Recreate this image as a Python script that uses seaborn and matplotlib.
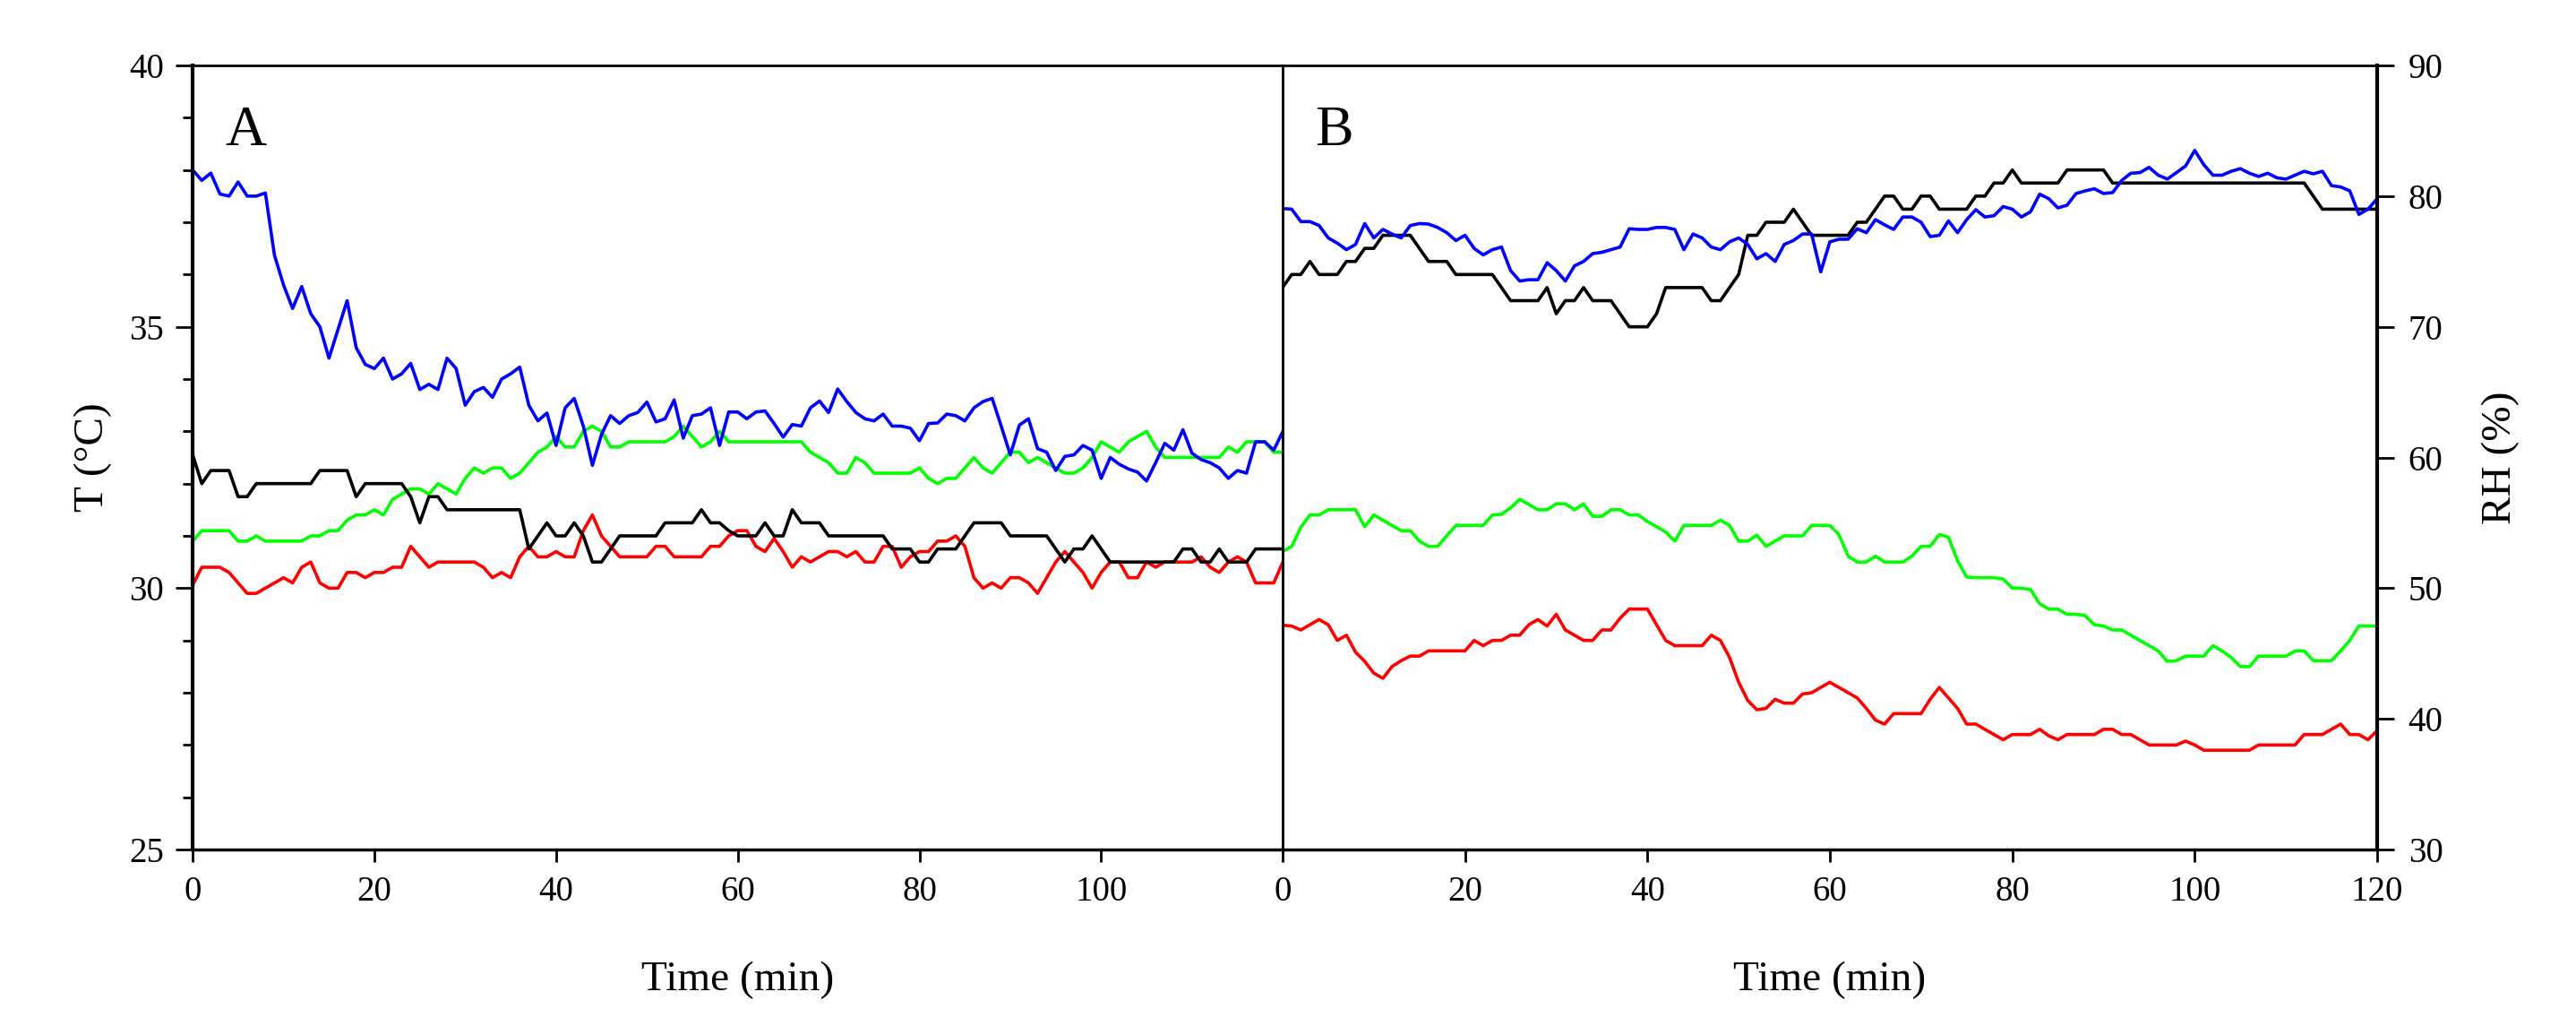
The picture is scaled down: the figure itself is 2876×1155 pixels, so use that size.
import numpy as np
import pandas as pd
import matplotlib
matplotlib.use("Agg")
import matplotlib.pyplot as plt
import seaborn as sns
from matplotlib.ticker import MultipleLocator

# time grid (min)
minutes = list(range(121))

# panel A - temperature (deg C)
blue_a = [38.0, 37.8, 37.94, 37.54, 37.5, 37.77, 37.5, 37.5, 37.56, 36.37, 35.8, 35.35, 35.77, 35.25, 35.0,
          34.4, 34.95, 35.5, 34.6, 34.28, 34.2, 34.4, 34.0, 34.1, 34.3, 33.8, 33.9, 33.8, 34.4, 34.2,
          33.5, 33.76, 33.84, 33.65, 34.0, 34.1, 34.23, 33.5, 33.2, 33.35, 32.73, 33.45, 33.63, 33.1, 32.35,
          32.94, 33.3, 33.15, 33.3, 33.36, 33.56, 33.18, 33.24, 33.6, 32.87, 33.3, 33.33, 33.45, 32.73, 33.37,
          33.37, 33.24, 33.37, 33.39, 33.15, 32.89, 33.13, 33.1, 33.45, 33.58, 33.36, 33.81, 33.57, 33.36, 33.24,
          33.2, 33.33, 33.1, 33.1, 33.06, 32.82, 33.15, 33.16, 33.33, 33.3, 33.2, 33.45, 33.57, 33.63, 33.1,
          32.55, 33.12, 33.24, 32.67, 32.6, 32.25, 32.52, 32.55, 32.73, 32.64, 32.1, 32.5, 32.37, 32.28, 32.22,
          32.05, 32.4, 32.77, 32.64, 33.03, 32.58, 32.46, 32.4, 32.3, 32.1, 32.25, 32.2, 32.8, 32.8, 32.64, 33.0]
green_a = [30.9, 31.1, 31.1, 31.1, 31.1, 30.9, 30.9, 31.0, 30.9, 30.9, 30.9, 30.9, 30.9, 31.0, 31.0,
           31.1, 31.1, 31.3, 31.4, 31.4, 31.5, 31.4, 31.7, 31.8, 31.9, 31.9, 31.8, 32.0, 31.9, 31.8,
           32.1, 32.3, 32.2, 32.3, 32.3, 32.1, 32.2, 32.4, 32.6, 32.7, 32.9, 32.7, 32.7, 33.0, 33.1,
           33.0, 32.7, 32.7, 32.8, 32.8, 32.8, 32.8, 32.8, 32.9, 33.1, 32.9, 32.7, 32.8, 33.0, 32.8,
           32.8, 32.8, 32.8, 32.8, 32.8, 32.8, 32.8, 32.8, 32.6, 32.5, 32.4, 32.2, 32.2, 32.5, 32.4,
           32.2, 32.2, 32.2, 32.2, 32.2, 32.3, 32.1, 32.0, 32.1, 32.1, 32.3, 32.5, 32.3, 32.2, 32.4,
           32.6, 32.6, 32.4, 32.5, 32.4, 32.3, 32.2, 32.2, 32.3, 32.5, 32.8, 32.7, 32.6, 32.8, 32.9,
           33.0, 32.7, 32.5, 32.5, 32.5, 32.5, 32.5, 32.5, 32.5, 32.7, 32.6, 32.8, 32.8, 32.8, 32.6, 32.6]
black_a = [32.55, 32.0, 32.25, 32.25, 32.25, 31.75, 31.75, 32.0, 32.0, 32.0, 32.0, 32.0, 32.0, 32.0, 32.25,
           32.25, 32.25, 32.25, 31.75, 32.0, 32.0, 32.0, 32.0, 32.0, 31.75, 31.25, 31.75, 31.75, 31.5, 31.5,
           31.5, 31.5, 31.5, 31.5, 31.5, 31.5, 31.5, 30.75, 31.0, 31.25, 31.0, 31.0, 31.25, 31.0, 30.5,
           30.5, 30.75, 31.0, 31.0, 31.0, 31.0, 31.0, 31.25, 31.25, 31.25, 31.25, 31.5, 31.25, 31.25, 31.1,
           31.0, 31.0, 31.0, 31.25, 31.0, 31.0, 31.5, 31.25, 31.25, 31.25, 31.0, 31.0, 31.0, 31.0, 31.0,
           31.0, 31.0, 30.75, 30.75, 30.75, 30.5, 30.5, 30.75, 30.75, 30.75, 31.0, 31.25, 31.25, 31.25, 31.25,
           31.0, 31.0, 31.0, 31.0, 31.0, 30.75, 30.5, 30.75, 30.75, 31.0, 30.75, 30.5, 30.5, 30.5, 30.5,
           30.5, 30.5, 30.5, 30.5, 30.75, 30.75, 30.5, 30.5, 30.75, 30.5, 30.5, 30.5, 30.75, 30.75, 30.75, 30.75]
red_a = [30.06, 30.4, 30.4, 30.4, 30.3, 30.1, 29.9, 29.9, 30.0, 30.1, 30.2, 30.1, 30.4, 30.5, 30.1,
         30.0, 30.0, 30.3, 30.3, 30.2, 30.3, 30.3, 30.4, 30.4, 30.8, 30.6, 30.4, 30.5, 30.5, 30.5,
         30.5, 30.5, 30.4, 30.2, 30.3, 30.2, 30.6, 30.8, 30.6, 30.6, 30.7, 30.6, 30.6, 31.1, 31.4,
         31.0, 30.8, 30.6, 30.6, 30.6, 30.6, 30.8, 30.8, 30.6, 30.6, 30.6, 30.6, 30.8, 30.8, 31.0,
         31.1, 31.1, 30.8, 30.7, 30.95, 30.7, 30.4, 30.6, 30.5, 30.6, 30.7, 30.7, 30.6, 30.7, 30.5,
         30.5, 30.8, 30.8, 30.4, 30.6, 30.7, 30.7, 30.9, 30.9, 31.0, 30.8, 30.2, 30.0, 30.1, 30.0,
         30.2, 30.2, 30.1, 29.9, 30.2, 30.5, 30.7, 30.5, 30.3, 30.0, 30.3, 30.5, 30.5, 30.2, 30.2,
         30.5, 30.4, 30.5, 30.5, 30.5, 30.5, 30.6, 30.4, 30.3, 30.5, 30.6, 30.5, 30.1, 30.1, 30.1, 30.5]

# panel B - relative humidity (%)
blue_b = [79.05, 79.0, 78.05, 78.05, 77.75, 76.8, 76.4, 75.9, 76.3, 77.9, 76.8, 77.45, 77.1, 76.8, 77.75,
          77.9, 77.86, 77.6, 77.2, 76.6, 77.0, 76.0, 75.5, 75.9, 76.1, 74.3, 73.5, 73.6, 73.6, 74.9,
          74.3, 73.5, 74.66, 75.0, 75.6, 75.7, 75.9, 76.1, 77.5, 77.45, 77.45, 77.6, 77.6, 77.45, 75.9,
          77.1, 76.8, 76.1, 75.9, 76.5, 76.8, 76.3, 75.2, 75.6, 75.0, 76.3, 76.6, 77.1, 77.1, 74.2,
          76.5, 76.7, 76.7, 77.5, 77.2, 78.2, 77.8, 77.45, 78.4, 78.4, 78.0, 76.9, 77.0, 78.1, 77.2,
          78.2, 78.96, 78.4, 78.5, 79.2, 79.0, 78.4, 78.8, 80.15, 79.8, 79.1, 79.3, 80.2, 80.4, 80.56,
          80.2, 80.27, 81.2, 81.75, 81.8, 82.2, 81.6, 81.3, 81.8, 82.3, 83.5, 82.4, 81.6, 81.6, 81.9,
          82.1, 81.75, 81.5, 81.75, 81.4, 81.3, 81.6, 81.9, 81.7, 81.9, 80.8, 80.7, 80.4, 78.6, 79.0, 79.8]
black_b = [73, 74, 74, 75, 74, 74, 74, 75, 75, 76, 76, 77, 77, 77, 77,
           76, 75, 75, 75, 74, 74, 74, 74, 74, 73, 72, 72, 72, 72, 73,
           71, 72, 72, 73, 72, 72, 72, 71, 70, 70, 70, 71, 73, 73, 73,
           73, 73, 72, 72, 73, 74, 77, 77, 78, 78, 78, 79, 78, 77, 77,
           77, 77, 77, 78, 78, 79, 80, 80, 79, 79, 80, 80, 79, 79, 79,
           79, 80, 80, 81, 81, 82, 81, 81, 81, 81, 81, 82, 82, 82, 82,
           82, 81, 81, 81, 81, 81, 81, 81, 81, 81, 81, 81, 81, 81, 81,
           81, 81, 81, 81, 81, 81, 81, 81, 80, 79, 79, 79, 79, 79, 79, 79]
green_b = [52.8, 53.2, 54.66, 55.6, 55.6, 56.0, 56.0, 56.0, 56.0, 54.7, 55.6, 55.2, 54.8, 54.4, 54.4,
           53.6, 53.2, 53.2, 54.0, 54.8, 54.8, 54.8, 54.8, 55.6, 55.65, 56.15, 56.8, 56.4, 56.0, 56.0,
           56.45, 56.45, 56.0, 56.45, 55.5, 55.5, 56.0, 56.0, 55.6, 55.6, 55.1, 54.7, 54.3, 53.6, 54.8,
           54.8, 54.8, 54.8, 55.2, 54.8, 53.6, 53.6, 54.05, 53.2, 53.6, 54.0, 54.0, 54.0, 54.8, 54.8,
           54.8, 54.1, 52.45, 52.0, 52.0, 52.45, 52.0, 52.0, 52.0, 52.45, 53.2, 53.2, 54.1, 53.9, 52.1,
           50.85, 50.8, 50.8, 50.8, 50.7, 50.0, 50.0, 49.9, 48.8, 48.4, 48.4, 48.0, 48.0, 47.9, 47.2,
           47.1, 46.8, 46.8, 46.4, 46.0, 45.6, 45.2, 44.4, 44.45, 44.8, 44.8, 44.8, 45.6, 45.2, 44.7,
           44.0, 44.0, 44.8, 44.8, 44.8, 44.8, 45.2, 45.2, 44.45, 44.45, 44.45, 45.2, 46.0, 47.1, 47.1, 47.1]
red_b = [47.17, 47.1, 46.8, 47.2, 47.6, 47.2, 46.0, 46.4, 45.1, 44.4, 43.5, 43.1, 44.0, 44.45, 44.8,
         44.8, 45.2, 45.2, 45.2, 45.2, 45.2, 46.0, 45.6, 46.0, 46.0, 46.4, 46.4, 47.2, 47.6, 47.1,
         48.0, 46.8, 46.4, 46.0, 46.0, 46.8, 46.8, 47.7, 48.4, 48.4, 48.4, 47.2, 46.0, 45.6, 45.6,
         45.6, 45.6, 46.4, 46.0, 44.7, 42.8, 41.4, 40.7, 40.8, 41.5, 41.2, 41.2, 41.9, 42.0, 42.4,
         42.8, 42.4, 42.0, 41.6, 40.8, 39.9, 39.6, 40.4, 40.4, 40.4, 40.4, 41.5, 42.4, 41.6, 40.8,
         39.6, 39.6, 39.2, 38.8, 38.4, 38.8, 38.8, 38.8, 39.2, 38.7, 38.4, 38.8, 38.8, 38.8, 38.8,
         39.2, 39.2, 38.8, 38.8, 38.4, 38.0, 38.0, 38.0, 38.0, 38.3, 38.0, 37.6, 37.6, 37.6, 37.6,
         37.6, 37.6, 38.0, 38.0, 38.0, 38.0, 38.0, 38.8, 38.8, 38.8, 39.2, 39.6, 38.8, 38.8, 38.4, 39.1]

colors = {"blue": "#0000ff", "green": "#00ff00", "black": "#000000", "red": "#ff0000"}


def long_df(series):
    parts = []
    for name, vals in series.items():
        parts.append(pd.DataFrame({"minute": minutes, "value": vals, "sensor": name}))
    return pd.concat(parts, ignore_index=True)


df_a = long_df({"green": green_a, "red": red_a, "black": black_a, "blue": blue_a})
df_b = long_df({"green": green_b, "red": red_b, "black": black_b, "blue": blue_b})

sns.set_style("ticks")
plt.rcParams["font.family"] = ["Liberation Serif", "DejaVu Serif"]
plt.rcParams["text.color"] = "black"
plt.rcParams["axes.labelcolor"] = "black"
plt.rcParams["axes.edgecolor"] = "black"
plt.rcParams["xtick.color"] = "black"
plt.rcParams["ytick.color"] = "black"

fig = plt.figure(figsize=(28.76, 11.55), dpi=100)
ax1 = fig.add_axes([0.0748, 0.1792, 0.4232, 0.7576])
ax2 = fig.add_axes([0.4979, 0.1792, 0.4249, 0.7576])

sns.lineplot(data=df_a, x="minute", y="value", hue="sensor", palette=colors,
             legend=False, linewidth=2.6, ax=ax1)
sns.lineplot(data=df_b, x="minute", y="value", hue="sensor", palette=colors,
             legend=False, linewidth=2.6, ax=ax2)

tick_fs = 28
label_fs = 34

# panel A
ax1.set_xlim(0, 120)
ax1.set_ylim(25, 40)
ax1.set_xticks([0, 20, 40, 60, 80, 100])
ax1.set_yticks([25, 30, 35, 40])
ax1.yaxis.set_minor_locator(MultipleLocator(1))
ax1.tick_params(axis="y", which="major", length=14, width=2, pad=9, labelsize=tick_fs)
ax1.tick_params(axis="y", which="minor", length=8, width=2)
ax1.tick_params(axis="x", which="major", length=10, width=2, pad=11, labelsize=tick_fs)
ax1.set_xlabel("Time (min)", fontsize=label_fs)
ax1.set_ylabel("T (°C)", fontsize=label_fs)
ax1.xaxis.set_label_coords(0.5, -0.142)
ax1.yaxis.set_label_coords(-0.074, 0.5)
ax1.spines["left"].set_linewidth(3)
ax1.spines["bottom"].set_linewidth(2.5)
ax1.spines["top"].set_linewidth(2)
ax1.spines["right"].set_linewidth(2)
ax1.text(0.03, 0.915, "A", transform=ax1.transAxes, fontsize=46, va="center", ha="left")

# panel B
ax2.set_xlim(0, 120)
ax2.set_ylim(30, 90)
ax2.set_xticks([0, 20, 40, 60, 80, 100, 120])
ax2.set_yticks([30, 40, 50, 60, 70, 80, 90])
ax2.yaxis.tick_right()
ax2.yaxis.set_label_position("right")
ax2.tick_params(axis="y", which="major", length=14, width=2, pad=11, labelsize=tick_fs)
ax2.tick_params(axis="x", which="major", length=10, width=2, pad=11, labelsize=tick_fs)
ax2.set_xlabel("Time (min)", fontsize=label_fs)
ax2.set_ylabel("RH (%)", fontsize=label_fs)
ax2.xaxis.set_label_coords(0.5, -0.142)
ax2.yaxis.set_label_coords(1.095, 0.5)
ax2.spines["right"].set_linewidth(3)
ax2.spines["bottom"].set_linewidth(2.5)
ax2.spines["top"].set_linewidth(2)
ax2.spines["left"].set_linewidth(2)
ax2.text(0.03, 0.915, "B", transform=ax2.transAxes, fontsize=46, va="center", ha="left")

fig.savefig("out.png", dpi=100, facecolor="white")
